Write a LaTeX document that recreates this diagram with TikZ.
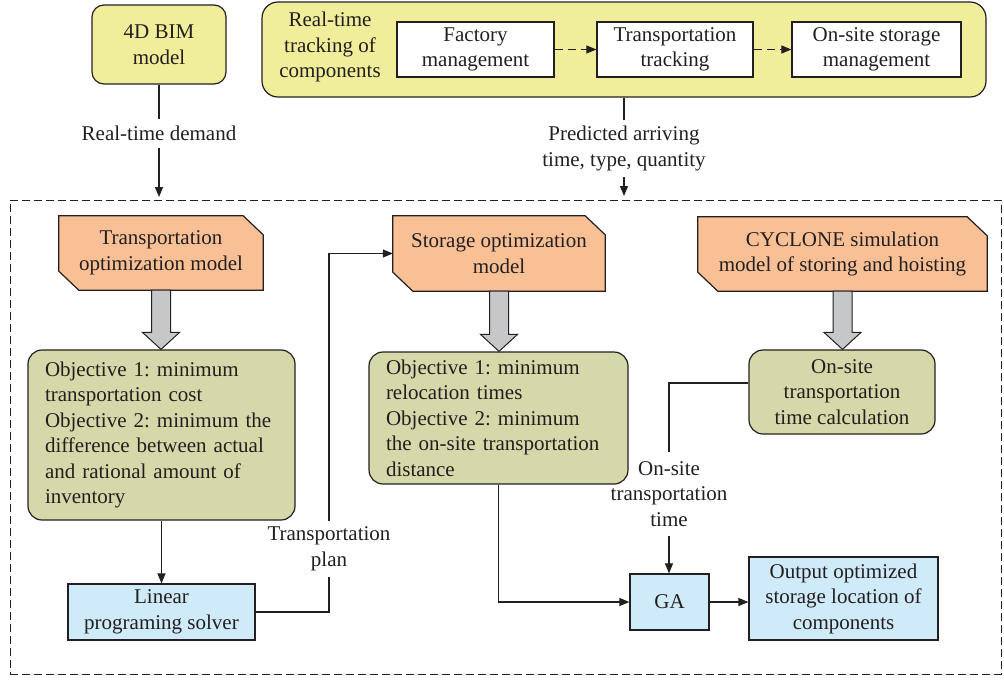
\documentclass[tikz,border=0pt]{standalone}
\usepackage{fontspec}
\setmainfont{Liberation Serif}
\usetikzlibrary{arrows.meta,calc,backgrounds}
\definecolor{ink}{HTML}{231F20}
\definecolor{ylw}{HTML}{F1EE9B}
\definecolor{org}{HTML}{F9C096}
\definecolor{grn}{HTML}{D5D8A8}
\definecolor{blu}{HTML}{CFEAF8}
\definecolor{gry}{HTML}{C6C7C9}
\newcommand\fatarrow[2]{\path let \p1=(#1.south), \p2=(#2.north) in [draw=ink, line width=1pt, fill=gry] (\x1-9.5pt,\y1) -- (\x1+9.5pt,\y1) -- (\x1+9.5pt,\y2+17pt) -- (\x1+18.5pt,\y2+17pt) -- (\x1,\y2) -- (\x1-18.5pt,\y2+17pt) -- (\x1-9.5pt,\y2+17pt) -- cycle;}
\frenchspacing
\begin{document}
\begin{tikzpicture}[x=1pt,y=-1pt,
  every node/.style={font=\fontsize{21}{25.5}\selectfont\frenchspacing, text=ink, align=center},
  bx/.style={draw=ink, line width=1.2pt, inner sep=0pt},
  ybox/.style={bx, fill=ylw},
  wbox/.style={bx, fill=white},
  gbox/.style={bx, fill=grn, rounded corners=14pt},
  bbox/.style={bx, fill=blu},
  cham/.style={inner sep=0pt},
  lab/.style={inner sep=0pt},
  conn/.style={draw=ink, line width=1.1pt},
  arr/.style={conn, -{Triangle[length=10pt,width=8pt]}},
  sz/.style 2 args={minimum width=#1pt, minimum height=#2pt}
]
\useasboundingbox (0,0) rectangle (1004,680);

% dashed frame
\node[draw=ink, line width=1pt, dash pattern=on 8pt off 4pt, sz={991}{474}, inner sep=0pt] (frame) at (505.5,437) {};

% top row
\node[ybox, rounded corners=12pt, sz={134}{79}] (bim) at (159,44.5) {4D BIM\\model};
\node[ybox, rounded corners=16pt, sz={724}{95}] (track) at (624,49.5) {};
\node[lab] (tracklbl) at (330,47) {Real-time\\tracking of\\components};
\node[wbox, sz={157}{55}] (fac) at (475.5,49.5) {Factory\\management};
\node[wbox, sz={156}{55}] (tt) at (675,49.5) {Transportation\\tracking};
\node[wbox, sz={169}{55}] (osm) at (876.5,49.5) {On-site storage\\management};
\draw[arr, dash pattern=on 8pt off 5pt] (fac.east) -- (tt.west);
\draw[arr, dash pattern=on 8pt off 5pt] (tt.east) -- (osm.west);

% labels on incoming arrows
\node[lab, minimum height=29pt] (l1) at (159,133.5) {Real-time demand};
\node[lab, minimum height=57pt] (l2) at (624,148.5) {Predicted arriving\\time, type, quantity};
\coordinate (c1) at (159,197);
\coordinate (c2) at (624,196);
\draw[conn] (bim.south) -- (l1.north);
\draw[arr] (l1.south) -- (c1);
\draw[conn] (track.south) -- (l2.north);
\draw[arr] (l2.south) -- (c2);

% chamfered orange boxes
\node[cham, sz={204}{74}] (topt) at (161,253) {Transportation\\optimization model};
\node[cham, sz={212}{75}] (sopt) at (499,253.5) {Storage optimization\\model};
\node[cham, sz={289}{74}] (cyc) at (842.5,254) {CYCLONE simulation\\model of storing and hoisting};
\begin{scope}[on background layer]
\foreach \n in {topt,sopt,cyc}
  \draw[line width=1.2pt, draw=ink, fill=org] (\n.north west) -- ([xshift=-20pt]\n.north east) -- ([yshift=-19pt]\n.north east) -- (\n.south east) -- ([xshift=20pt]\n.south west) -- ([yshift=19pt]\n.south west) -- cycle;
\end{scope}

% green boxes
\node[gbox, text width=233pt, inner xsep=17pt, minimum height=170pt, align=left] (g1) at (161.5,435) {Objective 1: minimum\\transportation cost\\Objective 2: minimum the\\difference between actual\\and rational amount of\\inventory};
\node[gbox, text width=225pt, inner xsep=17pt, minimum height=132pt, align=left] (g2) at (498.5,418) {Objective 1: minimum\\relocation times\\Objective 2: minimum\\the on-site transportation\\distance};
\node[gbox, sz={186}{84}] (g3) at (842,392) {On-site\\transportation\\time calculation};

\fatarrow{topt}{g1}
\fatarrow{sopt}{g2}
\fatarrow{cyc}{g3}

% blue boxes
\node[bbox, sz={187}{56}] (lin) at (161.5,612) {Linear\\programing solver};
\node[bbox, sz={79}{56}] (ga) at (669.5,602) {GA};
\node[bbox, sz={189}{83}] (out) at (843.5,598.5) {Output optimized\\storage location of\\components};

% connector labels
\node[lab, minimum height=56pt] (tp) at (329,549) {Transportation\\plan};
\node[lab, minimum height=84pt] (ost) at (669,494) {On-site\\transportation\\time};

% connectors
\draw[arr] (g1.south) -- (lin.north);
\draw[conn] (lin.east) -| (tp.south);
\draw[arr] (tp.north) |- (sopt.west);
\draw[arr] (g2.south) |- (ga.west);
\draw[conn] ([yshift=9pt]g3.west) -| (ost.north);
\draw[arr] (ost.south) -- (ost.south |- ga.north);
\draw[arr] (ga.east) -- (ga.east -| out.west);
\end{tikzpicture}
\end{document}
